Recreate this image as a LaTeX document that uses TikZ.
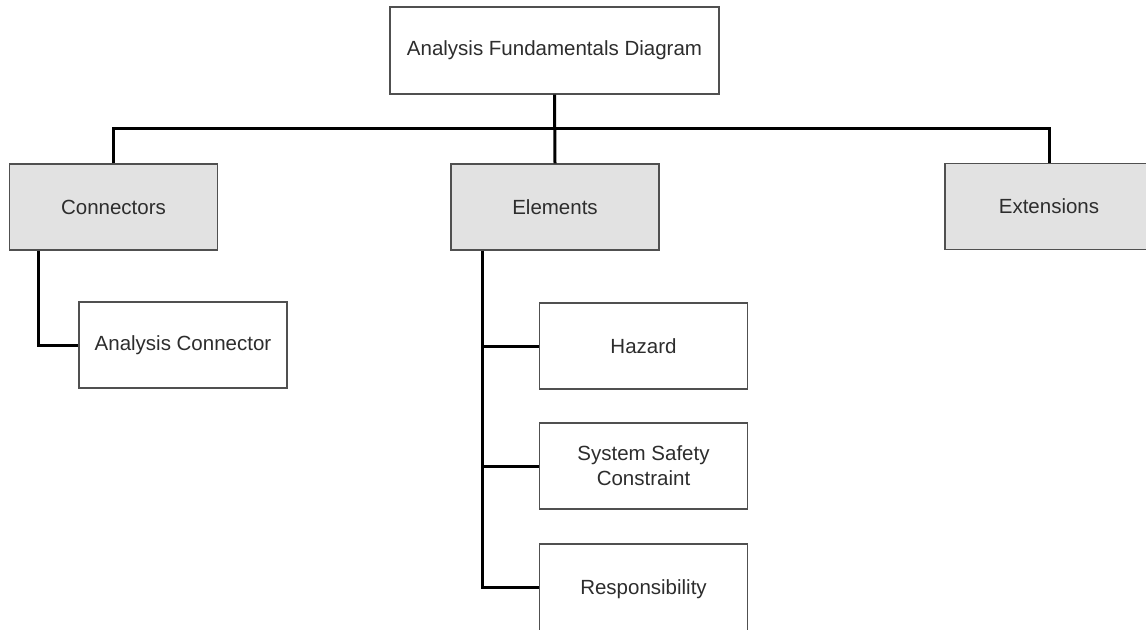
\documentclass[tikz,border=0pt]{standalone}
\usepackage{fontspec}
\setmainfont{Liberation Sans}
\usepackage{tikz}

\definecolor{boxgray}{RGB}{226,226,226}
\definecolor{edgegray}{RGB}{80,80,80}
\definecolor{textgray}{RGB}{45,45,45}

\tikzset{
	box/.style={shape=rectangle,draw=edgegray,line width=0.7pt,fill=white,text=textgray,
		minimum width=104pt,minimum height=43pt,align=center,
		font=\fontsize{10.25}{12.5}\selectfont},
	group/.style={box,fill=boxgray},
	link/.style={-,line width=1.5pt,black}
}

\begin{document}
\begin{tikzpicture}[x=0.5pt,y=-0.5pt]
	
	\useasboundingbox (0,0) rectangle (1146,629);
	
	\node[box,minimum width=164.5pt,minimum height=43.5pt] (top) at (554.5, 50.5) {Analysis Fundamentals Diagram};
	\node[group] (conn) at (113.5, 207) {Connectors};
	\node[group] (elem) at (555, 207) {Elements};
	\node[group] (ext) at (1049, 206.5) {Extensions};
	\node[box] (ac) at (183, 345) {Analysis Connector};
	\node[box] (haz) at (643.5, 346) {Hazard};
	\node[box] (ssc) at (643.5, 466) {System Safety\\Constraint};
	\node[box,minimum height=45pt] (resp) at (643.5, 589) {Responsibility};
	
	\coordinate (bus) at (0, 128);
	\coordinate (ctrunk) at (38, 0);
	\coordinate (etrunk) at (482, 0);
	
	\draw[link] (top.south) -- (elem.north);
	\draw[link] (conn.north) -- (conn.north |- bus) -- (ext.north |- bus) -- (ext.north);
	\draw[link] (conn.south -| ctrunk) |- (ac.west);
	\draw[link] (elem.south -| etrunk) |- ([yshift=1pt]resp.west);
	\draw[link] (etrunk |- haz.west) -- (haz.west);
	\draw[link] (etrunk |- ssc.west) -- (ssc.west);
	
\end{tikzpicture}
\end{document}
